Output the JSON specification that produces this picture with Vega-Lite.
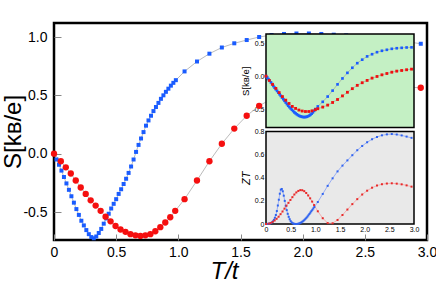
{
"$schema":"https://vega.github.io/schema/vega-lite/v6.json",
"width":373,"height":217,
"autosize":{"type":"none"},
"padding":{"left":54,"top":23,"right":9,"bottom":43},
"background":"white",
"config":{"view":{"stroke":"black","strokeWidth":2.5},"font":"Liberation Sans","axis":{"grid":false,"domain":false,"labelColor":"black","titleColor":"black","titleFontWeight":"normal","labelOverlap":false,"labelFlush":false,"labelFont":"Liberation Sans","titleFont":"Liberation Sans"}},
"datasets":{
"main":[
{"T":0,"v":0,"s":"b"},{"T":0.02,"v":-0.05,"s":"b"},{"T":0.04,"v":-0.095,"s":"b"},{"T":0.06,"v":-0.145,"s":"b"},{"T":0.08,"v":-0.2,"s":"b"},{"T":0.1,"v":-0.255,"s":"b"},{"T":0.12,"v":-0.31,"s":"b"},{"T":0.14,"v":-0.365,"s":"b"},{"T":0.16,"v":-0.42,"s":"b"},{"T":0.18,"v":-0.475,"s":"b"},{"T":0.2,"v":-0.525,"s":"b"},{"T":0.22,"v":-0.575,"s":"b"},{"T":0.24,"v":-0.615,"s":"b"},{"T":0.26,"v":-0.655,"s":"b"},{"T":0.28,"v":-0.69,"s":"b"},{"T":0.3,"v":-0.715,"s":"b"},{"T":0.32,"v":-0.725,"s":"b"},{"T":0.34,"v":-0.71,"s":"b"},{"T":0.36,"v":-0.68,"s":"b"},{"T":0.38,"v":-0.645,"s":"b"},{"T":0.4,"v":-0.6,"s":"b"},{"T":0.42,"v":-0.555,"s":"b"},{"T":0.44,"v":-0.515,"s":"b"},{"T":0.46,"v":-0.47,"s":"b"},{"T":0.48,"v":-0.43,"s":"b"},{"T":0.5,"v":-0.39,"s":"b"},{"T":0.52,"v":-0.345,"s":"b"},{"T":0.54,"v":-0.305,"s":"b"},{"T":0.56,"v":-0.26,"s":"b"},{"T":0.58,"v":-0.215,"s":"b"},{"T":0.6,"v":-0.165,"s":"b"},{"T":0.62,"v":-0.11,"s":"b"},{"T":0.64,"v":-0.05,"s":"b"},{"T":0.66,"v":0.015,"s":"b"},{"T":0.68,"v":0.075,"s":"b"},{"T":0.7,"v":0.13,"s":"b"},{"T":0.72,"v":0.185,"s":"b"},{"T":0.74,"v":0.24,"s":"b"},{"T":0.76,"v":0.285,"s":"b"},{"T":0.78,"v":0.325,"s":"b"},{"T":0.8,"v":0.365,"s":"b"},{"T":0.82,"v":0.4,"s":"b"},{"T":0.84,"v":0.435,"s":"b"},{"T":0.86,"v":0.47,"s":"b"},{"T":0.88,"v":0.5,"s":"b"},{"T":0.9,"v":0.53,"s":"b"},{"T":0.92,"v":0.557,"s":"b"},{"T":0.94,"v":0.583,"s":"b"},{"T":0.96,"v":0.607,"s":"b"},{"T":0.98,"v":0.63,"s":"b"},{"T":1.05,"v":0.705,"s":"b"},{"T":1.15,"v":0.79,"s":"b"},{"T":1.25,"v":0.857,"s":"b"},{"T":1.35,"v":0.91,"s":"b"},{"T":1.45,"v":0.946,"s":"b"},{"T":1.55,"v":0.974,"s":"b"},{"T":1.65,"v":1.0,"s":"b"},{"T":1.75,"v":1.017,"s":"b"},{"T":1.85,"v":1.026,"s":"b"},{"T":1.95,"v":1.03,"s":"b"},{"T":2.05,"v":1.03,"s":"b"},{"T":2.15,"v":1.026,"s":"b"},{"T":2.25,"v":1.02,"s":"b"},{"T":2.35,"v":1.014,"s":"b"},{"T":2.45,"v":1.005,"s":"b"},{"T":2.55,"v":0.995,"s":"b"},{"T":2.65,"v":0.985,"s":"b"},{"T":2.75,"v":0.972,"s":"b"},{"T":2.85,"v":0.958,"s":"b"},{"T":2.95,"v":0.942,"s":"b"},
{"T":0,"v":0,"s":"r"},{"T":0.055,"v":-0.065,"s":"r"},{"T":0.095,"v":-0.117,"s":"r"},{"T":0.135,"v":-0.17,"s":"r"},{"T":0.175,"v":-0.23,"s":"r"},{"T":0.215,"v":-0.29,"s":"r"},{"T":0.255,"v":-0.345,"s":"r"},{"T":0.295,"v":-0.4,"s":"r"},{"T":0.335,"v":-0.445,"s":"r"},{"T":0.375,"v":-0.49,"s":"r"},{"T":0.415,"v":-0.54,"s":"r"},{"T":0.455,"v":-0.58,"s":"r"},{"T":0.495,"v":-0.62,"s":"r"},{"T":0.535,"v":-0.65,"s":"r"},{"T":0.575,"v":-0.67,"s":"r"},{"T":0.615,"v":-0.69,"s":"r"},{"T":0.655,"v":-0.7,"s":"r"},{"T":0.695,"v":-0.705,"s":"r"},{"T":0.735,"v":-0.7,"s":"r"},{"T":0.775,"v":-0.69,"s":"r"},{"T":0.815,"v":-0.665,"s":"r"},{"T":0.855,"v":-0.63,"s":"r"},{"T":0.895,"v":-0.59,"s":"r"},{"T":0.935,"v":-0.545,"s":"r"},{"T":0.975,"v":-0.49,"s":"r"},{"T":1.05,"v":-0.39,"s":"r"},{"T":1.15,"v":-0.23,"s":"r"},{"T":1.25,"v":-0.065,"s":"r"},{"T":1.35,"v":0.085,"s":"r"},{"T":1.45,"v":0.215,"s":"r"},{"T":1.55,"v":0.325,"s":"r"},{"T":1.65,"v":0.41,"s":"r"},{"T":1.75,"v":0.47,"s":"r"},{"T":1.85,"v":0.515,"s":"r"},{"T":1.95,"v":0.545,"s":"r"},{"T":2.05,"v":0.565,"s":"r"},{"T":2.15,"v":0.578,"s":"r"},{"T":2.25,"v":0.585,"s":"r"},{"T":2.35,"v":0.588,"s":"r"},{"T":2.45,"v":0.588,"s":"r"},{"T":2.55,"v":0.585,"s":"r"},{"T":2.65,"v":0.58,"s":"r"},{"T":2.75,"v":0.575,"s":"r"},{"T":2.85,"v":0.57,"s":"r"},{"T":2.95,"v":0.565,"s":"r"}
],
"ins":[
{"T":0,"v":0,"s":"b"},{"T":0.025,"v":-0.02,"s":"b"},{"T":0.05,"v":-0.045,"s":"b"},{"T":0.075,"v":-0.07,"s":"b"},{"T":0.1,"v":-0.095,"s":"b"},{"T":0.125,"v":-0.12,"s":"b"},{"T":0.15,"v":-0.15,"s":"b"},{"T":0.175,"v":-0.175,"s":"b"},{"T":0.2,"v":-0.2,"s":"b"},{"T":0.225,"v":-0.225,"s":"b"},{"T":0.25,"v":-0.25,"s":"b"},{"T":0.275,"v":-0.275,"s":"b"},{"T":0.3,"v":-0.3,"s":"b"},{"T":0.325,"v":-0.325,"s":"b"},{"T":0.35,"v":-0.35,"s":"b"},{"T":0.375,"v":-0.375,"s":"b"},{"T":0.4,"v":-0.4,"s":"b"},{"T":0.425,"v":-0.425,"s":"b"},{"T":0.45,"v":-0.45,"s":"b"},{"T":0.475,"v":-0.47,"s":"b"},{"T":0.5,"v":-0.49,"s":"b"},{"T":0.525,"v":-0.51,"s":"b"},{"T":0.55,"v":-0.53,"s":"b"},{"T":0.575,"v":-0.55,"s":"b"},{"T":0.6,"v":-0.565,"s":"b"},{"T":0.625,"v":-0.58,"s":"b"},{"T":0.65,"v":-0.593,"s":"b"},{"T":0.675,"v":-0.603,"s":"b"},{"T":0.7,"v":-0.611,"s":"b"},{"T":0.725,"v":-0.617,"s":"b"},{"T":0.75,"v":-0.621,"s":"b"},{"T":0.775,"v":-0.622,"s":"b"},{"T":0.8,"v":-0.621,"s":"b"},{"T":0.825,"v":-0.617,"s":"b"},{"T":0.85,"v":-0.61,"s":"b"},{"T":0.875,"v":-0.6,"s":"b"},{"T":0.9,"v":-0.587,"s":"b"},{"T":0.925,"v":-0.57,"s":"b"},{"T":0.95,"v":-0.55,"s":"b"},{"T":0.975,"v":-0.527,"s":"b"},{"T":1.0,"v":-0.5,"s":"b"},{"T":1.05,"v":-0.46,"s":"b"},{"T":1.15,"v":-0.39,"s":"b"},{"T":1.25,"v":-0.31,"s":"b"},{"T":1.35,"v":-0.22,"s":"b"},{"T":1.45,"v":-0.125,"s":"b"},{"T":1.55,"v":-0.035,"s":"b"},{"T":1.65,"v":0.05,"s":"b"},{"T":1.75,"v":0.127,"s":"b"},{"T":1.85,"v":0.197,"s":"b"},{"T":1.95,"v":0.25,"s":"b"},{"T":2.05,"v":0.3,"s":"b"},{"T":2.15,"v":0.333,"s":"b"},{"T":2.25,"v":0.364,"s":"b"},{"T":2.35,"v":0.385,"s":"b"},{"T":2.45,"v":0.4,"s":"b"},{"T":2.55,"v":0.415,"s":"b"},{"T":2.65,"v":0.424,"s":"b"},{"T":2.75,"v":0.43,"s":"b"},{"T":2.85,"v":0.435,"s":"b"},{"T":2.95,"v":0.437,"s":"b"},
{"T":0,"v":0,"s":"r"},{"T":0.067,"v":-0.065,"s":"r"},{"T":0.133,"v":-0.126,"s":"r"},{"T":0.2,"v":-0.186,"s":"r"},{"T":0.267,"v":-0.25,"s":"r"},{"T":0.333,"v":-0.31,"s":"r"},{"T":0.4,"v":-0.365,"s":"r"},{"T":0.467,"v":-0.415,"s":"r"},{"T":0.533,"v":-0.46,"s":"r"},{"T":0.6,"v":-0.49,"s":"r"},{"T":0.667,"v":-0.515,"s":"r"},{"T":0.733,"v":-0.53,"s":"r"},{"T":0.8,"v":-0.537,"s":"r"},{"T":0.867,"v":-0.537,"s":"r"},{"T":0.933,"v":-0.527,"s":"r"},{"T":1.0,"v":-0.51,"s":"r"},{"T":1.05,"v":-0.495,"s":"r"},{"T":1.15,"v":-0.47,"s":"r"},{"T":1.25,"v":-0.44,"s":"r"},{"T":1.35,"v":-0.4,"s":"r"},{"T":1.45,"v":-0.355,"s":"r"},{"T":1.55,"v":-0.3,"s":"r"},{"T":1.65,"v":-0.245,"s":"r"},{"T":1.75,"v":-0.19,"s":"r"},{"T":1.85,"v":-0.14,"s":"r"},{"T":1.95,"v":-0.1,"s":"r"},{"T":2.05,"v":-0.065,"s":"r"},{"T":2.15,"v":-0.03,"s":"r"},{"T":2.25,"v":-0.005,"s":"r"},{"T":2.35,"v":0.02,"s":"r"},{"T":2.45,"v":0.04,"s":"r"},{"T":2.55,"v":0.06,"s":"r"},{"T":2.65,"v":0.076,"s":"r"},{"T":2.75,"v":0.086,"s":"r"},{"T":2.85,"v":0.097,"s":"r"},{"T":2.95,"v":0.106,"s":"r"}
],
"zt":[
{"T":0,"v":0,"s":"b"},{"T":0.02,"v":0,"s":"b"},{"T":0.04,"v":0.001,"s":"b"},{"T":0.06,"v":0.002,"s":"b"},{"T":0.08,"v":0.004,"s":"b"},{"T":0.1,"v":0.008,"s":"b"},{"T":0.12,"v":0.014,"s":"b"},{"T":0.14,"v":0.023,"s":"b"},{"T":0.16,"v":0.036,"s":"b"},{"T":0.18,"v":0.054,"s":"b"},{"T":0.2,"v":0.078,"s":"b"},{"T":0.22,"v":0.112,"s":"b"},{"T":0.24,"v":0.16,"s":"b"},{"T":0.26,"v":0.21,"s":"b"},{"T":0.28,"v":0.262,"s":"b"},{"T":0.3,"v":0.297,"s":"b"},{"T":0.32,"v":0.303,"s":"b"},{"T":0.34,"v":0.283,"s":"b"},{"T":0.36,"v":0.245,"s":"b"},{"T":0.38,"v":0.2,"s":"b"},{"T":0.4,"v":0.158,"s":"b"},{"T":0.42,"v":0.12,"s":"b"},{"T":0.44,"v":0.088,"s":"b"},{"T":0.46,"v":0.062,"s":"b"},{"T":0.48,"v":0.041,"s":"b"},{"T":0.5,"v":0.025,"s":"b"},{"T":0.52,"v":0.014,"s":"b"},{"T":0.54,"v":0.007,"s":"b"},{"T":0.56,"v":0.003,"s":"b"},{"T":0.58,"v":0.001,"s":"b"},{"T":0.6,"v":0,"s":"b"},{"T":0.62,"v":0,"s":"b"},{"T":0.64,"v":0.001,"s":"b"},{"T":0.66,"v":0.003,"s":"b"},{"T":0.68,"v":0.006,"s":"b"},{"T":0.7,"v":0.01,"s":"b"},{"T":0.72,"v":0.015,"s":"b"},{"T":0.74,"v":0.021,"s":"b"},{"T":0.76,"v":0.028,"s":"b"},{"T":0.78,"v":0.036,"s":"b"},{"T":0.8,"v":0.045,"s":"b"},{"T":0.82,"v":0.054,"s":"b"},{"T":0.84,"v":0.064,"s":"b"},{"T":0.86,"v":0.075,"s":"b"},{"T":0.88,"v":0.087,"s":"b"},{"T":0.9,"v":0.099,"s":"b"},{"T":0.92,"v":0.111,"s":"b"},{"T":0.94,"v":0.123,"s":"b"},{"T":0.96,"v":0.135,"s":"b"},{"T":0.98,"v":0.147,"s":"b"},{"T":1.05,"v":0.19,"s":"b"},{"T":1.15,"v":0.26,"s":"b"},{"T":1.25,"v":0.33,"s":"b"},{"T":1.35,"v":0.395,"s":"b"},{"T":1.45,"v":0.455,"s":"b"},{"T":1.55,"v":0.505,"s":"b"},{"T":1.65,"v":0.55,"s":"b"},{"T":1.75,"v":0.595,"s":"b"},{"T":1.85,"v":0.638,"s":"b"},{"T":1.95,"v":0.675,"s":"b"},{"T":2.05,"v":0.707,"s":"b"},{"T":2.15,"v":0.733,"s":"b"},{"T":2.25,"v":0.753,"s":"b"},{"T":2.35,"v":0.767,"s":"b"},{"T":2.45,"v":0.775,"s":"b"},{"T":2.55,"v":0.778,"s":"b"},{"T":2.65,"v":0.774,"s":"b"},{"T":2.75,"v":0.766,"s":"b"},{"T":2.85,"v":0.756,"s":"b"},{"T":2.95,"v":0.745,"s":"b"},
{"T":0,"v":0,"s":"r"},{"T":0.055,"v":0.003,"s":"r"},{"T":0.095,"v":0.009,"s":"r"},{"T":0.135,"v":0.018,"s":"r"},{"T":0.175,"v":0.03,"s":"r"},{"T":0.215,"v":0.045,"s":"r"},{"T":0.255,"v":0.063,"s":"r"},{"T":0.295,"v":0.085,"s":"r"},{"T":0.335,"v":0.108,"s":"r"},{"T":0.375,"v":0.133,"s":"r"},{"T":0.415,"v":0.158,"s":"r"},{"T":0.455,"v":0.183,"s":"r"},{"T":0.495,"v":0.208,"s":"r"},{"T":0.535,"v":0.232,"s":"r"},{"T":0.575,"v":0.255,"s":"r"},{"T":0.615,"v":0.273,"s":"r"},{"T":0.655,"v":0.286,"s":"r"},{"T":0.695,"v":0.293,"s":"r"},{"T":0.735,"v":0.292,"s":"r"},{"T":0.775,"v":0.284,"s":"r"},{"T":0.815,"v":0.268,"s":"r"},{"T":0.855,"v":0.247,"s":"r"},{"T":0.895,"v":0.222,"s":"r"},{"T":0.935,"v":0.194,"s":"r"},{"T":0.975,"v":0.164,"s":"r"},{"T":1.05,"v":0.11,"s":"r"},{"T":1.15,"v":0.05,"s":"r"},{"T":1.25,"v":0.008,"s":"r"},{"T":1.35,"v":0.006,"s":"r"},{"T":1.45,"v":0.035,"s":"r"},{"T":1.55,"v":0.078,"s":"r"},{"T":1.65,"v":0.125,"s":"r"},{"T":1.75,"v":0.172,"s":"r"},{"T":1.85,"v":0.215,"s":"r"},{"T":1.95,"v":0.255,"s":"r"},{"T":2.05,"v":0.288,"s":"r"},{"T":2.15,"v":0.314,"s":"r"},{"T":2.25,"v":0.332,"s":"r"},{"T":2.35,"v":0.344,"s":"r"},{"T":2.45,"v":0.35,"s":"r"},{"T":2.55,"v":0.352,"s":"r"},{"T":2.65,"v":0.349,"s":"r"},{"T":2.75,"v":0.343,"s":"r"},{"T":2.85,"v":0.334,"s":"r"},{"T":2.95,"v":0.323,"s":"r"}
],
"box":[{"panel":"inset"}]
},
"layer":[
{"data":{"name":"main"},"mark":{"type":"line","color":"#aaaaaa","strokeWidth":0.8},
"encoding":{
"x":{"field":"T","type":"quantitative","scale":{"domain":[0,3],"nice":false,"zero":false},
"axis":{"orient":"bottom","values":[0,0.5,1,1.5,2,2.5,3],"labelExpr":"datum.value==0?'0':format(datum.value,'.1f')","labelFontSize":14,"labelPadding":11,"tickSize":-6,"tickColor":"#888","title":"T/t","titleFontSize":24,"titleFontStyle":"italic","titleX":170,"titlePadding":0}},
"y":{"field":"v","type":"quantitative","scale":{"domain":[-0.74,1.12],"nice":false,"zero":false},
"axis":{"orient":"left","values":[-0.5,0,0.5,1],"labelExpr":"(datum.value<0?'-':'')+format(abs(datum.value),'.1f')","labelFontSize":14,"labelPadding":14,"tickSize":-7,"tickColor":"#888","title":"S[kʙ/e]","titleFontSize":24,"titlePadding":-3}},
"detail":{"field":"s"}}},
{"data":{"name":"main"},"transform":[{"filter":"datum.s=='b'"}],"mark":{"type":"square","size":16,"color":"#1a5cff","opacity":1},
"encoding":{"x":{"field":"T","type":"quantitative","scale":{"domain":[0,3],"nice":false,"zero":false},"axis":null},"y":{"field":"v","type":"quantitative","scale":{"domain":[-0.74,1.12],"nice":false,"zero":false},"axis":null}}},
{"data":{"name":"main"},"transform":[{"filter":"datum.s=='r'"}],"mark":{"type":"circle","size":40,"color":"#f50f0f","opacity":1},
"encoding":{"x":{"field":"T","type":"quantitative","scale":{"domain":[0,3],"nice":false,"zero":false},"axis":null},"y":{"field":"v","type":"quantitative","scale":{"domain":[-0.74,1.12],"nice":false,"zero":false},"axis":null}}},

{"data":{"name":"box"},"mark":{"type":"rect","fill":"#c4f0c4","stroke":"black","strokeWidth":1.5},
"encoding":{
"x":{"datum":0,"type":"quantitative","scale":{"domain":[0,3],"range":[212,360],"nice":false,"zero":false},
"axis":{"orient":"bottom","offset":-112.5,"values":[0.5,1,1.5,2,2.5],"labels":false,"tickSize":-3,"tickColor":"#444","title":null}},
"x2":{"datum":3},
"y":{"datum":-0.78,"type":"quantitative","scale":{"domain":[-0.78,0.64],"range":[104.5,11],"nice":false,"zero":false},
"axis":{"orient":"left","offset":-212,"values":[-0.5,0,0.5],"labelExpr":"(datum.value<0?'-':'')+format(abs(datum.value),'.1f')","labelFontSize":7,"labelPadding":2,"ticks":false,"title":"S[kʙ/e]","titleFontSize":9.5,"titlePadding":1}},
"y2":{"datum":0.64}}},
{"data":{"name":"ins"},"mark":{"type":"line","color":"#999999","strokeWidth":0.6},
"encoding":{"x":{"field":"T","type":"quantitative","scale":{"domain":[0,3],"range":[212,360],"nice":false,"zero":false},"axis":null},"y":{"field":"v","type":"quantitative","scale":{"domain":[-0.78,0.64],"range":[104.5,11],"nice":false,"zero":false},"axis":null},"detail":{"field":"s"}}},
{"data":{"name":"ins"},"transform":[{"filter":"datum.s=='b'"}],"mark":{"type":"square","size":7,"color":"#1a5cff","opacity":1},
"encoding":{"x":{"field":"T","type":"quantitative","scale":{"domain":[0,3],"range":[212,360],"nice":false,"zero":false},"axis":null},"y":{"field":"v","type":"quantitative","scale":{"domain":[-0.78,0.64],"range":[104.5,11],"nice":false,"zero":false},"axis":null}}},
{"data":{"name":"ins"},"transform":[{"filter":"datum.s=='r'"}],"mark":{"type":"square","size":8,"color":"#f01010","opacity":1},
"encoding":{"x":{"field":"T","type":"quantitative","scale":{"domain":[0,3],"range":[212,360],"nice":false,"zero":false},"axis":null},"y":{"field":"v","type":"quantitative","scale":{"domain":[-0.78,0.64],"range":[104.5,11],"nice":false,"zero":false},"axis":null}}},

{"data":{"name":"box"},"mark":{"type":"rect","fill":"#e9e9e9","stroke":"black","strokeWidth":1.5},
"encoding":{
"x":{"datum":0,"type":"quantitative","scale":{"domain":[0,3],"range":[212,360],"nice":false,"zero":false},
"axis":{"orient":"bottom","offset":-16,"values":[0,0.5,1,1.5,2,2.5,3],"labelExpr":"datum.value==0?'0':format(datum.value,'.1f')","labelFontSize":7,"labelPadding":1,"ticks":false,"title":null}},
"x2":{"datum":3},
"y":{"datum":0,"type":"quantitative","scale":{"domain":[0,0.8],"range":[201,108.5],"nice":false,"zero":false},
"axis":{"orient":"left","offset":-212,"values":[0,0.2,0.4,0.6,0.8],"labelExpr":"datum.value==0?'0':format(datum.value,'.1f')","labelFontSize":7,"labelPadding":2,"ticks":false,"title":"ZT","titleFontSize":11,"titleFontStyle":"italic","titlePadding":3}},
"y2":{"datum":0.8}}},
{"data":{"name":"zt"},"transform":[{"filter":"datum.s=='b'"}],"mark":{"type":"line","color":"#86a0f5","strokeWidth":0.8},
"encoding":{"x":{"field":"T","type":"quantitative","scale":{"domain":[0,3],"range":[212,360],"nice":false,"zero":false},"axis":null},"y":{"field":"v","type":"quantitative","scale":{"domain":[0,0.8],"range":[201,108.5],"nice":false,"zero":false},"axis":null}}},
{"data":{"name":"zt"},"transform":[{"filter":"datum.s=='r'"}],"mark":{"type":"line","color":"#f5a0a0","strokeWidth":0.8},
"encoding":{"x":{"field":"T","type":"quantitative","scale":{"domain":[0,3],"range":[212,360],"nice":false,"zero":false},"axis":null},"y":{"field":"v","type":"quantitative","scale":{"domain":[0,0.8],"range":[201,108.5],"nice":false,"zero":false},"axis":null}}},
{"data":{"name":"zt"},"transform":[{"filter":"datum.s=='b'"}],"mark":{"type":"square","size":4,"color":"#2f63f0","opacity":1},
"encoding":{"x":{"field":"T","type":"quantitative","scale":{"domain":[0,3],"range":[212,360],"nice":false,"zero":false},"axis":null},"y":{"field":"v","type":"quantitative","scale":{"domain":[0,0.8],"range":[201,108.5],"nice":false,"zero":false},"axis":null}}},
{"data":{"name":"zt"},"transform":[{"filter":"datum.s=='r'"}],"mark":{"type":"square","size":4,"color":"#e82a2a","opacity":1},
"encoding":{"x":{"field":"T","type":"quantitative","scale":{"domain":[0,3],"range":[212,360],"nice":false,"zero":false},"axis":null},"y":{"field":"v","type":"quantitative","scale":{"domain":[0,0.8],"range":[201,108.5],"nice":false,"zero":false},"axis":null}}}
],
"resolve":{"scale":{"x":"independent","y":"independent"},"axis":{"x":"independent","y":"independent"}}
}
